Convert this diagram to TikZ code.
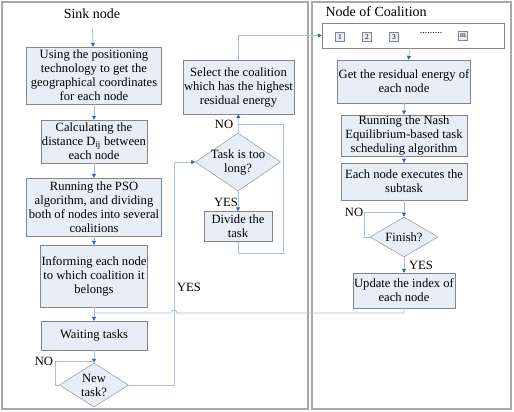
\documentclass[tikz,border=0pt]{standalone}
\usepackage{fontspec}
\setmainfont{Liberation Serif}
\usetikzlibrary{calc,arrows.meta,shapes.geometric}
\definecolor{boxfill}{HTML}{E7EEF8}
\definecolor{boxline}{HTML}{858585}
\definecolor{flowline}{HTML}{A9BFD7}
\definecolor{tipblue}{HTML}{2E62B8}
\definecolor{panelline}{HTML}{A8A8A8}
\tikzset{
    flowbox/.style={rectangle, draw=boxline, fill=boxfill, align=center, inner sep=1pt},
    decision/.style={diamond, draw=boxline, fill=boxfill, inner sep=0pt},
    flow/.style={draw=flowline, line width=0.8pt},
    answer/.style={inner sep=0pt}
}

\begin{document}
\begin{tikzpicture}[x=1pt, y=-1pt, font=\fontsize{12.6}{14}\selectfont]
    \useasboundingbox (0,0) rectangle (514,412);
    %the two panels
    \draw [panelline, line width=1.2pt] (2,2) rectangle (308,409);
    \draw [panelline, line width=1.2pt] (312,2) rectangle (511,409);
    \node [font=\fontsize{14}{16}\selectfont] (sink) at (92,14) {Sink node};
    \node [anchor=west, font=\fontsize{14}{16}\selectfont] (coal) at (322,12) {Node of Coalition};

    \begin{scope}[every node/.style={flowbox}]
        \node [minimum width=135, minimum height=57] (using) at (94,75.5) {Using the positioning\\technology to get the\\geographical coordinates\\for each node};
        \node [minimum width=106, minimum height=43] (calc) at (94,141.5) {Calculating the\\distance D\textsubscript{ij} between\\each node};
        \node [minimum width=135, minimum height=58] (pso) at (94,207) {Running the PSO\\algorithm, and dividing\\both of nodes into several\\coalitions};
        \node [minimum width=106, minimum height=62] (inform) at (94,276) {Informing each node\\to which coalition it\\belongs};
        \node [minimum width=106, minimum height=29] (wait) at (94,335.5) {Waiting tasks};
        \node [minimum width=111, minimum height=54] (select) at (238.5,87) {Select the coalition\\which has the highest\\residual energy};
        \node [minimum width=68, minimum height=30] (divide) at (238,226.5) {Divide the\\task};
        \node [minimum width=182, minimum height=25, fill=white] (mbox) at (413,35.5) {};
        \node [minimum width=126, minimum height=43] (get) at (404,81.5) {Get the residual energy of\\each node};
        \node [minimum width=126, minimum height=41] (nash) at (404,135.5) {Running the Nash\\Equilibrium-based task\\scheduling algorithm};
        \node [minimum width=126, minimum height=37] (exec) at (404,181.5) {Each node executes the\\subtask};
        \node [minimum width=96, minimum height=35] (update) at (404,290.5) {Update the index of\\each node};
    \end{scope}

    \begin{scope}[every node/.style={flowbox, minimum size=9, inner sep=0pt, font=\fontsize{7.5}{8}\selectfont}]
        \node (n1) at (340,37) {1};
        \node (n2) at (367,37) {2};
        \node (n3) at (394,37) {3};
        \node (nm) at (463,36) {m};
    \end{scope}
    \node [font=\fontsize{10}{10}\selectfont] (dots) at (431,33) {.........};

    \begin{scope}[every node/.style={decision}]
        \node [minimum width=69, minimum height=44, label={[align=center]center:New\\task?}] (new) at (94,385) {};
        \node [minimum width=85, minimum height=58, label={[align=center]center:Task is too\\long?}] (long) at (238,162) {};
        \node [minimum width=68, minimum height=40, label={[align=center]center:Finish?}] (finish) at (404,237) {};
    \end{scope}

    \coordinate (join) at (94,313);
    \coordinate (hop) at (174,313);
    \coordinate (newno) at (94,361);
    \coordinate (finno) at (404,212);
    \coordinate (longno) at (238,124);

    \begin{scope}[>={Triangle[length=4pt, width=4pt, color=tipblue]},
                every edge/.style={flow}]
        \path [->] (sink) edge [shorten <=6pt] (using);
        \path [->] (using) edge (calc);
        \path [->] (calc) edge (pso);
        \path [->] (pso) edge (inform);
        \path [->] (join) edge (wait);
        \path [->] (wait) edge (new);
        \path [->] (long) edge (select);
        \path [->] (long) edge (divide);
        \path [->] (mbox) edge (get);
        \path [->] (get) edge (nash);
        \path [->] (nash) edge (exec);
        \path [->] (exec) edge (finish);
        \path [->] (finish) edge (update);

        \draw [flow] (inform) -- (join);
        \draw [flow] (update.south) |- ($(hop)+(3,0)$) arc (0:-180:3) -- (join);
        \draw [flow] (new.west) -- ++(-4,0) |- (newno);
        \draw [flow, ->] (new.east) -- ++(46,0) |- (long.west);
        \draw [flow] (divide.south) -- ++(0,12) -| (283,124) -- (longno);
        \draw [flow, ->] (select.north) |- (mbox.west);
        \draw [flow] (finish.west) -- ++(-5,0) |- (finno);
    \end{scope}

    \begin{scope}[every node/.style={answer}]
        \node (yes1) at (189,287) {YES};
        \node (no1) at (44,361) {NO};
        \node (no2) at (224,124) {NO};
        \node (yes2) at (226,202) {YES};
        \node (no3) at (354,212) {NO};
        \node (yes3) at (421,265) {YES};
    \end{scope}
\end{tikzpicture}
\end{document}
